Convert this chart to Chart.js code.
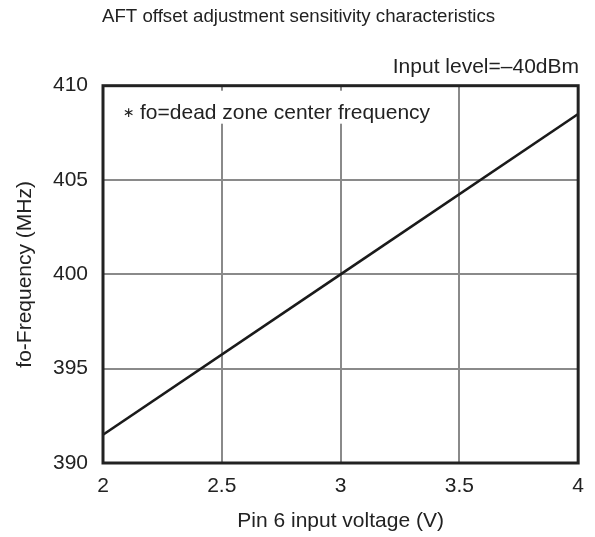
<!DOCTYPE html>
<html>
<head>
<meta charset="utf-8">
<script src="https://cdn.jsdelivr.net/npm/chart.js@4/dist/chart.umd.min.js"></script>
<style>
  html, body { margin: 0; padding: 0; background: #fff; }
  #wrap { width: 595px; height: 537px; position: relative; }
</style>
</head>
<body>
<div id="wrap"><canvas id="c" width="595" height="537"></canvas></div>
<script>
// Data
const voltage = [2, 3, 4];                 // Pin 6 input voltage (V)
const frequency = [391.5, 400, 408.5];     // fo-Frequency (MHz)
const xTicks = [2, 2.5, 3, 3.5, 4];
const yTicks = [390, 395, 400, 405, 410];

const titleText = 'AFT offset adjustment sensitivity characteristics';
const subtitleText = 'Input level=\u201340dBm';
const noteMark = '\u2217';
const noteText = 'fo=dead zone center frequency';
const xTitle = 'Pin 6 input voltage (V)';
const yTitle = 'fo-Frequency (MHz)';

const FONT = '"Liberation Sans", Arial, Helvetica, sans-serif';
const TEXT = '#222';

const framePlugin = {
  id: 'frame',
  afterDraw(chart) {
    const { ctx, chartArea: a } = chart;
    ctx.save();
    // chart title
    ctx.font = '18.7px ' + FONT;
    ctx.fillStyle = TEXT;
    ctx.textAlign = 'center';
    ctx.textBaseline = 'alphabetic';
    ctx.fillText(titleText, (a.left + a.right) / 2 - 42, 22);
    // note with white background (interrupts gridlines)
    ctx.font = '21px ' + FONT;
    const w = ctx.measureText(noteText).width;
    const nx = a.left + 37;
    const ny = a.top + 33;
    ctx.fillStyle = '#fff';
    ctx.fillRect(nx - 28, a.top + 5, w + 40, 33);
    ctx.fillStyle = TEXT;
    ctx.textAlign = 'left';
    ctx.fillText(noteText, nx, ny);
    ctx.font = '14px "DejaVu Sans", sans-serif';
    ctx.fillText(noteMark, nx - 17, ny - 2);
    // plot frame
    ctx.strokeStyle = '#222';
    ctx.lineWidth = 3;
    ctx.strokeRect(a.left, a.top, a.right - a.left, a.bottom - a.top);
    ctx.restore();
  }
};

new Chart(document.getElementById('c'), {
  type: 'scatter',
  data: {
    datasets: [{
      data: voltage.map((v, i) => ({ x: v, y: frequency[i] })),
      showLine: true,
      borderColor: '#1a1a1a',
      borderWidth: 2.6,
      pointRadius: 0,
      tension: 0
    }]
  },
  options: {
    responsive: false,
    animation: false,
    devicePixelRatio: 1,
    layout: { padding: { left: 0, right: 16, top: 0, bottom: 0 } },
    plugins: {
      legend: { display: false },
      tooltip: { enabled: false },
      title: { display: false },
      subtitle: {
        display: true,
        text: subtitleText,
        align: 'end',
        color: TEXT,
        font: { family: FONT, size: 21, weight: 'normal' },
        padding: { top: 55, bottom: 5.5 }
      }
    },
    scales: {
      x: {
        type: 'linear',
        min: xTicks[0],
        max: xTicks[xTicks.length - 1],
        afterBuildTicks(scale) { scale.ticks = xTicks.map(v => ({ value: v })); },
        afterFit(scale) { scale.height = 74; },
        grid: { color: '#8a8a8a', lineWidth: 2, drawTicks: false },
        border: { display: false },
        ticks: {
          color: TEXT, font: { family: FONT, size: 21 }, padding: 11, maxRotation: 0,
          callback: v => String(v)
        },
        title: {
          display: true, text: xTitle, color: TEXT,
          font: { family: FONT, size: 21 }, padding: { top: 0, bottom: 3 }
        }
      },
      y: {
        type: 'linear',
        min: yTicks[0],
        max: yTicks[yTicks.length - 1],
        afterBuildTicks(scale) { scale.ticks = yTicks.map(v => ({ value: v })); },
        afterFit(scale) { scale.width = 103; },
        grid: { color: '#8a8a8a', lineWidth: 2, drawTicks: false },
        border: { display: false },
        ticks: { color: TEXT, font: { family: FONT, size: 21 }, padding: 15, callback: v => String(v) },
        title: {
          display: true, text: yTitle, color: TEXT,
          font: { family: FONT, size: 21 }, padding: { top: 13, bottom: 0 }
        }
      }
    }
  },
  plugins: [framePlugin]
});
</script>
</body>
</html>
